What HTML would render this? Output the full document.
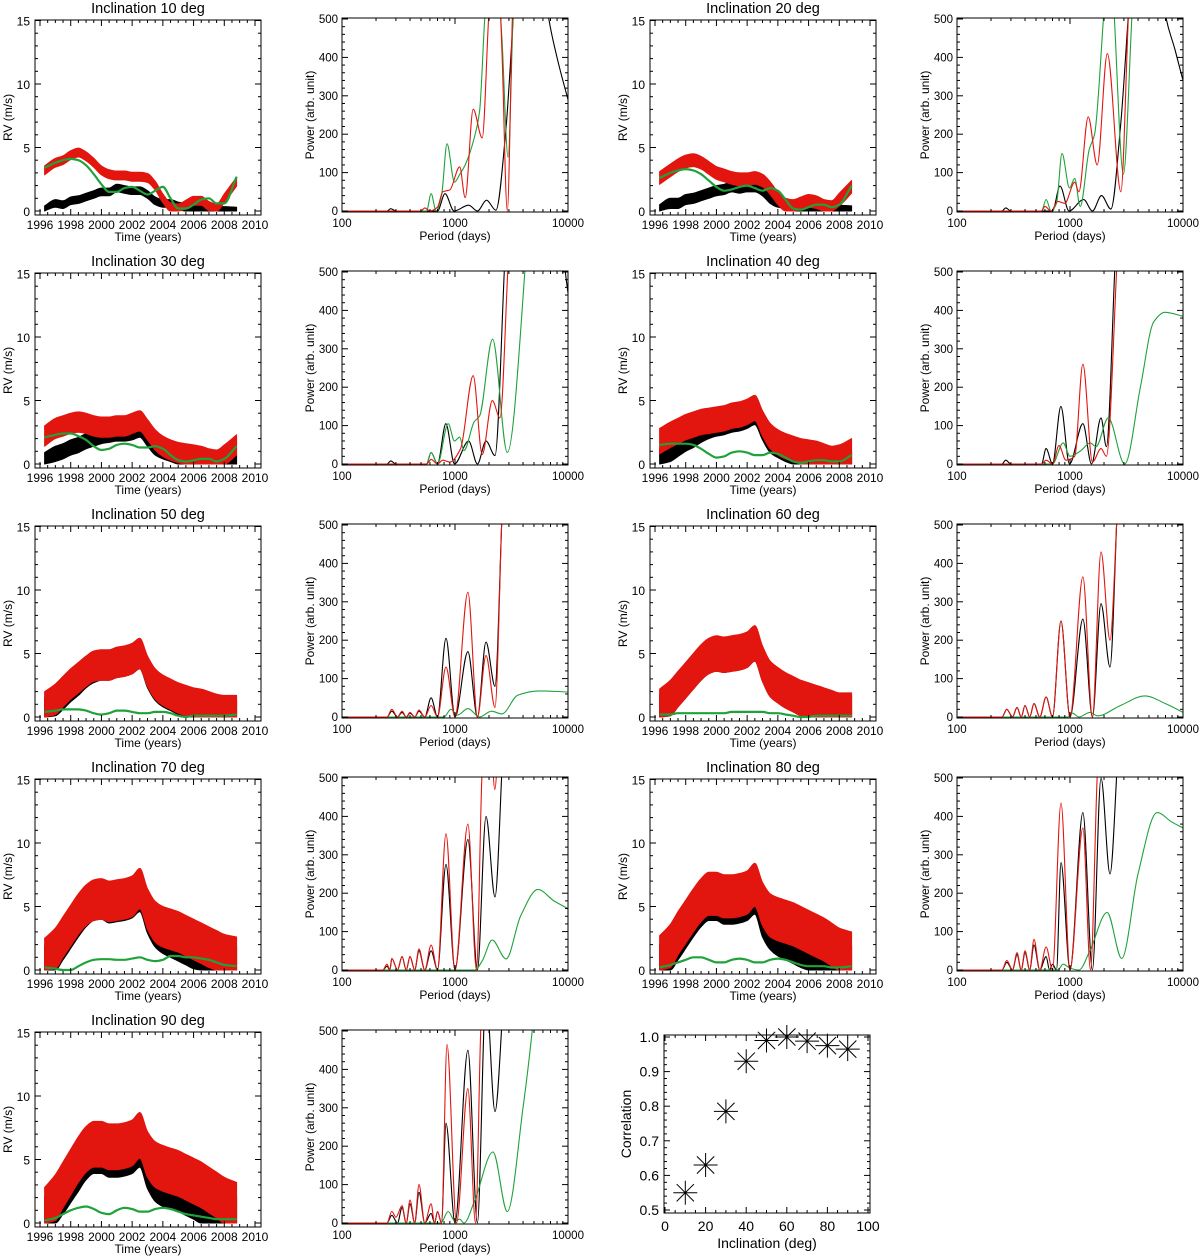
<!DOCTYPE html>
<html><head><meta charset="utf-8"><title>Inclination RV and periodograms</title>
<style>
html,body{margin:0;padding:0;background:#fff;}
svg{display:block;font-family:"Liberation Sans",Arial,sans-serif;}
</style></head>
<body>
<svg id="fig" width="1200" height="1256" viewBox="0 0 1200 1256" xmlns="http://www.w3.org/2000/svg"></svg>
<script>
// ---------- DATA ----------
const rvYears=[1996.3,1997,1997.5,1998,1998.5,1999,1999.5,2000,2000.5,2001,2001.5,2002,2002.5,2003,2003.5,2004,2004.5,2005,2005.5,2006,2006.5,2007,2007.5,2008,2008.8];
const inclinations=[10,20,30,40,50,60,70,80,90];
const rvRed10=[3.2,3.8,4.0,4.4,4.6,4.3,3.8,3.2,2.9,2.8,2.8,2.7,2.7,2.6,2.0,1.0,0.3,0.2,0.5,0.8,0.8,0.4,0.2,1.0,2.3];
const rvGreen10=[3.4,3.8,4.0,4.1,4.0,3.6,2.9,2.1,1.5,1.5,1.8,1.9,1.6,1.3,1.6,1.9,1.0,0.2,0.2,0.5,0.9,1.0,0.6,0.6,2.7];
const rvBlack10=[0.1,0.6,0.5,0.8,0.9,1.1,1.3,1.5,1.5,1.8,1.7,1.6,1.6,1.3,0.8,0.6,0.6,0.4,0.3,0.2,0.15,0.1,0.05,0.05,0.0];
const rvRed20=[2.6,3.2,3.6,3.9,4.0,3.8,3.4,3.0,2.8,2.6,2.5,2.5,2.6,2.4,1.8,1.0,0.5,0.4,0.6,0.8,0.7,0.4,0.3,0.9,1.9];
const rvGreen20=[2.6,3.0,3.2,3.3,3.2,2.9,2.4,1.9,1.6,1.7,1.9,2.0,1.8,1.6,1.8,1.6,0.9,0.2,0.1,0.3,0.5,0.5,0.3,0.5,2.0];
const rvBlack20=[0.1,0.6,0.6,0.9,1.0,1.2,1.4,1.6,1.7,1.9,1.8,1.9,1.9,1.6,1.0,0.7,0.6,0.4,0.3,0.2,0.15,0.1,0.05,0.05,0.0];
const rvRed30=[2.2,2.8,3.0,3.2,3.3,3.2,3.0,2.9,2.9,3.0,3.0,3.2,3.4,2.7,1.9,1.4,1.1,0.9,0.8,0.7,0.6,0.4,0.3,0.7,1.5];
const rvGreen30=[2.1,2.3,2.4,2.4,2.2,1.9,1.4,1.1,1.2,1.5,1.6,1.5,1.3,1.3,1.4,1.2,0.7,0.3,0.2,0.3,0.4,0.4,0.2,0.4,1.4];
const rvBlack30=[0.3,0.8,1.0,1.3,1.5,1.8,2.0,2.2,2.3,2.4,2.4,2.5,2.7,2.0,1.3,1.0,0.8,0.6,0.5,0.4,0.3,0.2,0.1,0.1,0.1];
const rvRed40=[1.8,2.3,2.6,2.9,3.1,3.3,3.4,3.5,3.6,3.8,3.9,4.1,4.4,3.2,2.2,1.7,1.4,1.2,1.0,0.9,0.8,0.6,0.4,0.5,1.0];
const rvGreen40=[1.5,1.6,1.6,1.6,1.5,1.2,0.8,0.5,0.6,0.9,1.0,0.9,0.7,0.7,0.9,0.8,0.5,0.2,0.1,0.2,0.3,0.3,0.2,0.2,0.7];
const rvBlack40=[0.4,1.0,1.4,1.8,2.1,2.5,2.8,3.0,3.1,3.3,3.4,3.6,3.9,2.7,1.7,1.3,1.0,0.8,0.7,0.6,0.5,0.4,0.3,0.2,0.2];
const rvRed50=[0.8,1.4,2.0,2.6,3.1,3.6,4.0,4.1,4.1,4.3,4.4,4.6,5.0,3.6,2.6,2.1,1.8,1.5,1.3,1.1,1.0,0.8,0.6,0.5,0.5];
const rvGreen50=[0.4,0.5,0.6,0.6,0.6,0.5,0.3,0.2,0.3,0.5,0.5,0.4,0.3,0.3,0.4,0.4,0.3,0.1,0.0,0.1,0.1,0.1,0.1,0.1,0.2];
const rvBlack50=[0.5,1.1,1.6,2.2,2.7,3.3,3.7,3.9,3.9,4.1,4.2,4.4,4.8,3.3,2.3,1.8,1.5,1.2,1.0,0.8,0.7,0.6,0.4,0.3,0.3];
const rvRed60=[0.8,1.5,2.2,2.9,3.6,4.3,4.8,5.0,4.9,5.0,5.1,5.3,5.8,4.2,3.0,2.5,2.1,1.8,1.5,1.3,1.1,0.9,0.7,0.5,0.5];
const rvGreen60=[0.2,0.2,0.3,0.3,0.3,0.3,0.3,0.3,0.3,0.4,0.4,0.4,0.4,0.4,0.3,0.3,0.2,0.1,0.0,0.0,0.1,0.1,0.1,0.1,0.1];
const rvBlack60=[0.6,1.3,2.0,2.7,3.4,4.1,4.6,4.8,4.7,4.8,4.9,5.1,5.6,4.0,2.8,2.3,1.9,1.6,1.3,1.1,0.9,0.7,0.5,0.4,0.4];
const rvRed70=[0.9,1.7,2.6,3.5,4.4,5.1,5.5,5.6,5.4,5.5,5.6,5.8,6.4,4.8,3.8,3.4,3.2,3.0,2.7,2.4,2.1,1.8,1.5,1.2,1.0];
const rvGreen70=[0.2,0.1,0.0,0.0,0.3,0.6,0.8,0.85,0.85,0.8,0.8,0.9,1.0,0.8,0.7,0.8,1.1,1.1,1.0,1.0,0.9,0.8,0.6,0.4,0.3];
const rvBlack70=[0.6,1.3,2.1,3.0,3.9,4.7,5.2,5.3,5.0,5.1,5.2,5.4,5.9,4.2,3.1,2.6,2.3,2.0,1.7,1.4,1.2,1.0,0.8,0.6,0.5];
const rvRed80=[1.0,1.9,2.9,3.8,4.7,5.5,6.0,6.0,5.8,5.8,5.9,6.1,6.7,5.2,4.3,4.0,3.8,3.6,3.3,3.0,2.7,2.4,2.0,1.6,1.3];
const rvGreen80=[0.2,0.4,0.6,0.8,1.0,1.0,0.8,0.6,0.6,0.8,0.9,0.8,0.6,0.6,0.8,0.9,0.8,0.6,0.4,0.3,0.3,0.3,0.2,0.2,0.3];
const rvBlack80=[0.6,1.3,2.2,3.1,4.0,4.8,5.3,5.3,5.0,5.0,5.1,5.3,5.8,4.0,3.0,2.5,2.2,1.9,1.6,1.4,1.2,1.0,0.8,0.6,0.5];
const rvRed90=[1.0,2.0,3.0,4.0,5.0,5.8,6.2,6.2,6.0,6.0,6.1,6.3,6.9,5.4,4.6,4.3,4.1,3.9,3.6,3.3,3.0,2.6,2.2,1.8,1.4];
const rvGreen90=[0.2,0.4,0.7,1.0,1.2,1.3,1.1,0.8,0.7,1.0,1.2,1.1,0.9,0.9,1.1,1.2,1.1,0.9,0.7,0.6,0.5,0.4,0.3,0.3,0.3];
const rvBlack90=[0.6,1.3,2.2,3.1,4.0,4.9,5.4,5.4,5.1,5.1,5.2,5.4,5.9,4.2,3.2,2.8,2.6,2.4,2.1,1.8,1.5,1.2,1.0,0.8,0.6];
const rvSpreadRed=[0.35,0.5,0.8,1.0,1.2,1.4,1.6,1.7,1.8];
const rvSpreadBlack=[0.3,0.4,0.6,0.8,1.0,1.2,1.3,1.4,1.5];

// power spectra: [period (days), power]
const pw10Black=[[100,0],[250,0],[270,6],[300,0],[700,0],[815,45],[980,0],[1320,15],[1580,0],[1900,28],[2300,2],[2800,200],[3300,520],[4500,1200],[6600,520],[8000,400],[10000,290]];
const pw10Green=[[100,0],[560,0],[615,45],[680,0],[760,40],[850,175],[990,75],[1100,95],[1230,120],[1480,190],[1650,260],[1850,520],[2200,750],[2600,450],[2950,140],[3300,540],[4500,1000]];
const pw10Red=[[100,0],[500,0],[540,8],[600,0],[700,10],[780,50],[900,55],[1100,115],[1230,35],[1450,265],[1740,190],[2000,520],[2300,750],[2600,420],[2900,0],[3250,540],[4000,1000]];
const pw20Black=[[100,0],[250,0],[270,8],[300,0],[700,0],[815,65],[980,0],[1320,30],[1580,0],[1900,40],[2300,5],[2800,220],[3300,520],[5000,1300],[6900,520],[8500,420],[10000,340]];
const pw20Green=[[100,0],[560,0],[615,30],[680,0],[760,20],[850,150],[990,60],[1100,85],[1230,12],[1480,160],[1650,200],[2000,520],[2250,700],[2450,520],[2970,95],[3550,520],[4500,1000]];
const pw20Red=[[100,0],[560,0],[600,12],[680,0],[780,25],[900,20],[1100,75],[1200,50],[1450,245],[1740,120],[2140,410],[2820,50],[3300,520],[4000,1000]];
const pw30Black=[[100,0],[250,0],[270,8],[300,0],[560,0],[615,30],[700,0],[830,105],[990,0],[1320,60],[1580,0],[1880,60],[2260,22],[2750,520],[3500,1200],[7000,1300],[9400,510],[10000,445]];
const pw30Red=[[100,0],[560,0],[615,12],[700,0],[780,10],[900,5],[1120,40],[1450,230],[1740,25],[2140,165],[2500,120],[2950,520],[3600,1000]];
const pw30Green=[[100,0],[560,0],[615,30],[700,0],[870,105],[990,60],[1100,70],[1200,35],[1480,110],[1650,125],[2150,325],[2900,30],[4200,520],[5000,900]];
const pw40Black=[[100,0],[250,0],[270,10],[300,0],[560,0],[614,40],[700,0],[830,150],[990,0],[1300,105],[1550,0],[1880,120],[2100,45],[2500,520],[3200,1200]];
const pw40Red=[[100,0],[560,0],[614,10],[700,0],[800,48],[920,10],[1100,20],[1300,260],[1580,5],[1880,40],[2100,20],[2600,520],[3300,1200]];
const pw40Green=[[100,0],[700,0],[870,55],[1000,20],[1250,35],[1510,55],[1700,45],[2180,120],[3050,0],[4200,200],[5500,370],[6900,395],[10000,385]];
const pw50Black=[[100,0],[250,0],[276,15],[310,0],[340,12],[370,0],[400,10],[440,0],[480,15],[540,0],[614,50],[700,0],[832,205],[1000,0],[1300,170],[1580,0],[1880,195],[2260,80],[2600,520],[3200,1200]];
const pw50Red=[[100,0],[250,0],[276,20],[310,0],[340,15],[370,0],[400,12],[440,0],[480,18],[540,0],[614,30],[700,0],[832,130],[1000,0],[1300,325],[1580,0],[1880,160],[2260,25],[2600,520],[3200,1200]];
const pw50Green=[[100,0],[800,0],[920,20],[1050,5],[1300,22],[1650,0],[2100,15],[2600,8],[3600,57],[5600,68],[10000,65]];
const pw60Black=[[100,0],[250,0],[276,20],[310,0],[340,25],[370,0],[400,30],[440,0],[480,35],[540,0],[614,52],[700,0],[832,250],[1000,0],[1300,255],[1580,0],[1880,295],[2260,130],[2600,520],[3200,1200]];
const pw60Red=[[100,0],[250,0],[276,20],[310,0],[340,25],[370,0],[400,30],[440,0],[480,35],[540,0],[614,52],[700,0],[832,250],[1000,0],[1300,365],[1580,0],[1880,430],[2260,200],[2600,520],[3200,1200]];
const pw60Green=[[100,0],[950,0],[1050,10],[1200,0],[1500,12],[1750,3],[2800,30],[4600,55],[7000,35],[10000,12]];
const pw70Black=[[100,0],[230,0],[250,10],[265,0],[276,30],[310,0],[340,35],[370,0],[400,35],[440,0],[480,50],[540,0],[614,50],[700,0],[832,275],[1000,0],[1300,340],[1580,0],[1880,400],[2260,190],[2600,520],[3200,1200]];
const pw70Red=[[100,0],[230,0],[250,15],[265,0],[276,30],[310,0],[340,35],[370,0],[400,35],[440,0],[480,55],[540,0],[614,65],[700,0],[832,355],[1000,0],[1300,380],[1550,0],[1740,520],[2000,700],[2250,470],[2500,700]];
const pw70Green=[[100,0],[1500,0],[1750,25],[2130,78],[2830,29],[3800,140],[5430,210],[7500,180],[10000,160]];
const pw80Black=[[100,0],[250,0],[276,20],[310,0],[340,40],[370,0],[400,45],[440,0],[480,65],[540,0],[614,35],[660,0],[700,15],[760,0],[832,280],[1000,0],[1300,410],[1580,0],[1880,500],[2260,250],[2600,520],[3200,1200]];
const pw80Red=[[100,0],[250,0],[276,25],[310,0],[340,45],[370,0],[400,50],[440,0],[480,80],[540,0],[614,60],[700,0],[832,435],[1000,0],[1300,370],[1520,0],[1750,520],[2100,800]];
const pw80Green=[[100,0],[780,0],[870,15],[1000,5],[1200,0],[1500,50],[2130,150],[2870,30],[4000,250],[5900,410],[8000,385],[10000,370]];
const pw90Black=[[100,0],[250,0],[276,20],[310,0],[340,40],[370,0],[400,50],[440,0],[480,80],[540,0],[614,25],[660,0],[700,30],[760,0],[832,260],[1000,0],[1300,450],[1580,0],[1880,600],[2260,290],[2600,520],[3200,1200]];
const pw90Red=[[100,0],[250,0],[276,30],[300,15],[340,45],[370,0],[400,60],[440,0],[480,100],[540,0],[614,50],[660,0],[700,30],[760,0],[850,465],[1030,0],[1300,350],[1520,0],[1700,520],[2000,800]];
const pw90Green=[[100,0],[750,0],[870,30],[1000,5],[1100,10],[1200,0],[1500,60],[2170,185],[2900,30],[4000,300],[4900,520],[6000,800]];

const corrValues=[0.55,0.63,0.785,0.93,0.99,1.0,0.988,0.975,0.965];
const rvYTicks=[0,5,10,15];
const rvXTicks=[1996,1998,2000,2002,2004,2006,2008,2010];
const pwYTicks=[0,100,200,300,400,500];
const pwXTicks=[100,1000,10000];
const corrXTicks=[0,20,40,60,80,100];
const corrYTicks=[0.5,0.6,0.7,0.8,0.9,1.0];

// ---------- DRAWING ----------
const NS="http://www.w3.org/2000/svg";
const svg=document.getElementById('fig');
const RED="#e3150f", GREEN="#1fa23a";
function mk(tag,attrs,parent){const el=document.createElementNS(NS,tag);for(const k in attrs)el.setAttribute(k,attrs[k]);(parent||svg).appendChild(el);return el;}
function group(name,parent){const g=mk('g',{},parent);


return g;}
function ln(g,x1,y1,x2,y2,name,w){const el=mk('line',{x1:x1,y1:y1,x2:x2,y2:y2,stroke:'#000','stroke-width':w||1},g);


return el;}
function tx(g,x,y,s,size,anchor,name,rot){const el=mk('text',{x:x,y:y,'font-size':size,'text-anchor':anchor||'middle',fill:'#000'},g);
if(rot)el.setAttribute('transform','rotate(-90 '+x+' '+y+')');
el.textContent=s;


return el;}
// monotone cubic (Fritsch-Carlson) path through points with increasing x
function smoothPath(pts){
  const n=pts.length;
  const f=v=>v.toFixed(1);
  if(n<2)return 'M'+f(pts[0][0])+','+f(pts[0][1]);
  const dx=[],m=[];
  for(let i=0;i<n-1;i++){dx.push(pts[i+1][0]-pts[i][0]);m.push((pts[i+1][1]-pts[i][1])/(dx[i]||1e-6));}
  const t=new Array(n);
  t[0]=m[0];t[n-1]=m[n-2];
  for(let i=1;i<n-1;i++){
    if(m[i-1]*m[i]<=0)t[i]=0;
    else{const w1=2*dx[i]+dx[i-1],w2=dx[i]+2*dx[i-1];t[i]=(w1+w2)/(w1/m[i-1]+w2/m[i]);}
  }
  let d='M'+f(pts[0][0])+','+f(pts[0][1]);
  for(let i=0;i<n-1;i++){
    const h=dx[i]/3;
    d+=' C'+f(pts[i][0]+h)+','+f(pts[i][1]+h*t[i])+' '+f(pts[i+1][0]-h)+','+f(pts[i+1][1]-h*t[i+1])+' '+f(pts[i+1][0])+','+f(pts[i+1][1]);
  }
  return d;
}
function box(g,x0,y0,x1,y1){const r=mk('rect',{x:x0,y:y0,width:x1-x0,height:y1-y0,fill:'none',stroke:'#000','stroke-width':1},g);

}
let clipId=0;
function clip(x0,y0,x1,y1){const id='c'+(clipId++);const cp=mk('clipPath',{id:id});mk('rect',{x:x0,y:y0,width:x1-x0,height:y1-y0},cp);return 'url(#'+id+')';}

function rvPanel(idx,px,py,red,black,green){
  const inc=inclinations[idx];
  const g=group('rv-panel-'+inc+'deg');
  const bx0=px+35,bx1=px+261,by0=py+20,by1=py+215;
  const X=yr=>px+40+(yr-1996)*(215/14);
  const Y=v=>py+211-v*(190.5/15);
  const cl=clip(bx0,by0,bx1,by1);
  const data=group('rv-series',g);data.setAttribute('clip-path',cl);
  function band(vals,spread,color,name){
    const up=rvYears.map((y,i)=>[X(y),Y(vals[i]+spread)]);
    const lo=rvYears.map((y,i)=>[X(y),Y(Math.max(0,vals[i]-spread))]);
    let d=smoothPath(up);
    const lp=lo.slice().reverse();
    // lower edge reversed: build with x decreasing -> mirror trick
    const mir=lp.map(p=>[-p[0],p[1]]);
    const ld=smoothPath(mir).replace(/(-?\d+\.?\d*),(-?\d+\.?\d*)/g,(s,a,b)=>(-parseFloat(a)).toFixed(1)+','+b);
    d+=' L'+ld.slice(1)+' Z';
    const p=mk('path',{d:d,fill:color,stroke:color,'stroke-width':1,'stroke-linejoin':'round'},data);
    
    
  }
  band(black,rvSpreadBlack[idx],'#000','rv-black-series');
  band(red,rvSpreadRed[idx],RED,'rv-red-series');
  const gp=mk('path',{d:smoothPath(rvYears.map((y,i)=>[X(y),Y(green[i])])),fill:'none',stroke:GREEN,'stroke-width':2.2},data);
  
  
  box(g,bx0,by0,bx1,by1);
  for(let yr=1996;yr<=2010.01;yr+=0.5){const x=X(yr);const maj=Math.abs(yr%2)<0.01;const L=maj?6:3;
    ln(g,x,by1,x,by1-L,'x-tick');ln(g,x,by0,x,by0+L,'x-tick');}
  rvXTicks.forEach(t=>tx(g,X(t),by1+14,String(t),12,'middle','x-tick-label'));
  for(let v=0;v<=15;v++){const y=Y(v);const maj=v%5===0;const L=maj?6:3;
    ln(g,bx0,y,bx0+L,y,'y-tick');ln(g,bx1,y,bx1-L,y,'y-tick');}
  rvYTicks.forEach(t=>tx(g,bx0-5,Y(t)+5,String(t),12,'end','y-tick-label'));
  tx(g,(bx0+bx1)/2,py+13,'Inclination '+inc+' deg',14.5,'middle','panel-title');
  tx(g,px+12,(by0+by1)/2,'RV (m/s)',12,'middle','y-axis-title',true);
  tx(g,(bx0+bx1)/2,by1+26,'Time (years)',12,'middle','x-axis-title');
}

function pwPanel(idx,px,py,black,red,green){
  const inc=inclinations[idx];
  const g=group('power-panel-'+inc+'deg');
  const bx0=px+342,bx1=px+568,by0=py+18,by1=py+212;
  const X=p=>px+342+113*Math.log10(p/100);
  const Y=v=>py+211-v*0.384;
  const cl=clip(bx0,by0,bx1,by1);
  const data=group('power-series',g);data.setAttribute('clip-path',cl);
  [[black,'#000','power-black'],[green,GREEN,'power-green'],[red,RED,'power-red']].forEach(s=>{
    const p=mk('path',{d:smoothPath(s[0].map(q=>[X(q[0]),Y(q[1])])),fill:'none',stroke:s[1],'stroke-width':1.1},data);
    
    
  });
  box(g,bx0,by0,bx1,by1);
  for(let dec=100;dec<10000;dec*=10){for(let m=1;m<=10;m++){const x=X(dec*m);const maj=(m===1||m===10);const L=maj?6:3;
    ln(g,x,by1,x,by1-L,'x-tick');ln(g,x,by0,x,by0+L,'x-tick');}}
  pwXTicks.forEach(t=>tx(g,X(t),by1+15,String(t),11.5,'middle','x-tick-label'));
  for(let v=0;v<=500;v+=20){const y=Y(v);const maj=v%100===0;const L=maj?6:3;
    ln(g,bx0,y,bx0+L,y,'y-tick');ln(g,bx1,y,bx1-L,y,'y-tick');}
  pwYTicks.forEach(t=>tx(g,bx0-4,Y(t)+4,String(t),11.5,'end','y-tick-label'));
  tx(g,px+314,(by0+by1)/2,'Power (arb. unit)',12,'middle','y-axis-title',true);
  tx(g,(bx0+bx1)/2,by1+28,'Period (days)',12,'middle','x-axis-title');
}

const rvSets=[[rvRed10,rvBlack10,rvGreen10],[rvRed20,rvBlack20,rvGreen20],[rvRed30,rvBlack30,rvGreen30],[rvRed40,rvBlack40,rvGreen40],[rvRed50,rvBlack50,rvGreen50],[rvRed60,rvBlack60,rvGreen60],[rvRed70,rvBlack70,rvGreen70],[rvRed80,rvBlack80,rvGreen80],[rvRed90,rvBlack90,rvGreen90]];
const pwSets=[[pw10Black,pw10Red,pw10Green],[pw20Black,pw20Red,pw20Green],[pw30Black,pw30Red,pw30Green],[pw40Black,pw40Red,pw40Green],[pw50Black,pw50Red,pw50Green],[pw60Black,pw60Red,pw60Green],[pw70Black,pw70Red,pw70Green],[pw80Black,pw80Red,pw80Green],[pw90Black,pw90Red,pw90Green]];
for(let i=0;i<9;i++){
  const row=Math.floor(i/2),col=i%2;
  const px=col*615,py=row*253;
  rvPanel(i,px,py,rvSets[i][0],rvSets[i][1],rvSets[i][2]);
  pwPanel(i,px,py,pwSets[i][0],pwSets[i][1],pwSets[i][2]);
}

// correlation panel
(function(){
  const g=group('correlation-panel');
  const bx0=664,bx1=870,by0=1035,by1=1213;
  const X=v=>665+v*2.03;
  const Y=c=>1210-(c-0.5)*346;
  box(g,bx0,by0,bx1,by1);
  for(let v=0;v<=100;v+=5){const x=X(v);const L=(v%20===0)?6:3;ln(g,x,by1,x,by1-L,'x-tick');ln(g,x,by0,x,by0+L,'x-tick');}
  corrXTicks.forEach(t=>tx(g,X(t),by1+18,String(t),14,'middle','x-tick-label'));
  for(let k=0;k<=25;k++){const c=0.5+k*0.02;const y=Y(c);const L=(k%5===0)?6:3;ln(g,bx0,y,bx0+L,y,'y-tick');ln(g,bx1,y,bx1-L,y,'y-tick');}
  corrYTicks.forEach(t=>tx(g,bx0-5,Y(t)+5,t.toFixed(1),14,'end','y-tick-label'));
  tx(g,631,(by0+by1)/2,'Correlation',14,'middle','y-axis-title',true);
  tx(g,(bx0+bx1)/2,1248,'Inclination (deg)',14,'middle','x-axis-title');
  const pts=group('correlation-points',g);
  corrValues.forEach((c,i)=>{
    const x=X(inclinations[i]),y=Y(c),r=12;
    const m=group('correlation-marker',pts);
    ln(m,x-r,y,x+r,y,'marker-stroke',1);
    ln(m,x,y-r,x,y+r,'marker-stroke',1);
    ln(m,x-r*0.72,y-r*0.72,x+r*0.72,y+r*0.72,'marker-stroke',1);
    ln(m,x-r*0.72,y+r*0.72,x+r*0.72,y-r*0.72,'marker-stroke',1);
  });
})();
</script>
</body></html>
